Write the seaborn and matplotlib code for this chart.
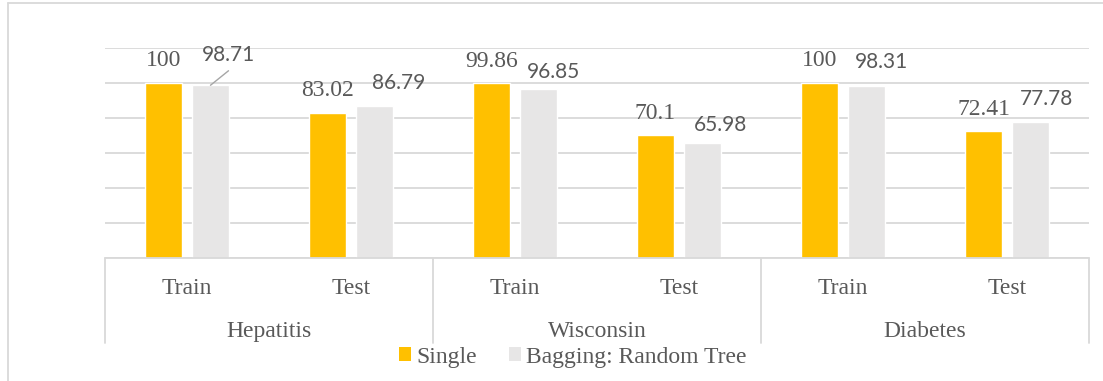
import numpy as np
import pandas as pd
import seaborn as sns
import matplotlib
matplotlib.use("Agg")
import matplotlib.pyplot as plt
from matplotlib.lines import Line2D
from matplotlib.patches import Patch
import matplotlib.transforms as mtransforms

# ---- data ----
datasets = ["Hepatitis", "Wisconsin", "Diabetes"]
splits = ["Train", "Test"]
methods = ["Single", "Bagging: Random Tree"]
single_acc = [100, 83.02, 99.86, 70.1, 100, 72.41]
bagging_acc = [98.71, 86.79, 96.85, 65.98, 98.31, 77.78]

# ---- styling ----
SINGLE_COLOR = "#FFC000"
BAGGING_COLOR = "#E7E6E6"
GRID_COLOR = "#D9D9D9"
TEXT_COLOR = "#595959"
SERIF = "Liberation Serif"
SANS = "Lato"

keys = [f"{d}|{s}" for d in datasets for s in splits]
df = pd.DataFrame({
    "key": keys * 2,
    "method": [methods[0]] * len(keys) + [methods[1]] * len(keys),
    "value": single_acc + bagging_acc,
})

sns.set_theme(style="white")
plt.rcParams["font.family"] = [SERIF, "DejaVu Serif"]

fig = plt.figure(figsize=(11.03, 3.81), dpi=100)
W, H = 1103, 381
ax = fig.add_axes([105 / W, 1 - 258 / H, (1089 - 105) / W, (258 - 48) / H])

sns.barplot(data=df, x="key", y="value", hue="method", order=keys,
            hue_order=methods, palette=[SINGLE_COLOR, BAGGING_COLOR],
            width=0.573, gap=0.213, saturation=1, legend=False, ax=ax,
            zorder=3, errorbar=None)

ax.set_ylim(0, 120)
ax.set_xlim(-0.5, len(keys) - 0.5)
ax.set_yticks(np.arange(0, 121, 20))
ax.set_yticklabels([])
ax.tick_params(axis="both", length=0, labelbottom=False, labelleft=False)
ax.set_xlabel("")
ax.set_ylabel("")
for sp in ax.spines.values():
    sp.set_visible(False)
ax.grid(axis="y", color=GRID_COLOR, lw=1.3, zorder=0)
ax.set_axisbelow(True)

# category box below the plot
xtrans = mtransforms.blended_transform_factory(ax.transData, ax.transAxes)
box_depth = (343 - 258) / (258 - 48)
ax.add_line(Line2D([-0.5, len(keys) - 0.5], [0, 0], transform=xtrans,
                   color=GRID_COLOR, lw=1.3, clip_on=False, zorder=4))
for xs in np.arange(-0.5, len(keys), 2):
    ax.add_line(Line2D([xs, xs], [0, -box_depth], transform=xtrans,
                       color=GRID_COLOR, lw=1.3, clip_on=False))

px = 1.0 / (258 - 48)
for i, k in enumerate(keys):
    ax.text(i, -(294 - 258) * px, k.split("|")[1], transform=xtrans,
            ha="center", va="baseline", fontsize=17, color=TEXT_COLOR,
            family=SERIF)
for j, d in enumerate(datasets):
    ax.text(2 * j + 0.5, -(337 - 258) * px, d, transform=xtrans,
            ha="center", va="baseline", fontsize=17, color=TEXT_COLOR,
            family=SERIF)

# value labels
single_off = [(0, 16.7)] * 6
bagging_off = [(18, 24.3), (24, 17), (15.3, 10.8), (18, 11.8), (15, 17.7), (15.7, 16.9)]
leader = [True, False, False, False, False, False]

for bar, v, (dx, dy) in zip(ax.containers[0], single_acc, single_off):
    xc = bar.get_x() + bar.get_width() / 2
    ax.annotate(f"{v:g}", xy=(xc, v), xytext=(dx, dy), textcoords="offset pixels",
                ha="center", va="baseline", fontsize=17, color=TEXT_COLOR,
                family=SERIF, zorder=5)

for bar, v, (dx, dy), ld in zip(ax.containers[1], bagging_acc, bagging_off, leader):
    xc = bar.get_x() + bar.get_width() / 2
    ax.annotate(f"{v:g}", xy=(xc, v), xytext=(dx, dy), textcoords="offset pixels",
                ha="center", va="baseline", fontsize=15, color=TEXT_COLOR,
                family=SANS, zorder=5)
    if ld:
        ax.annotate("", xy=(xc, v), xytext=(dx, 14.5), textcoords="offset pixels",
                    arrowprops=dict(arrowstyle="-", color="#A6A6A6", lw=1.0,
                                    shrinkA=0, shrinkB=0))

# legend
handles = [Patch(facecolor=SINGLE_COLOR, edgecolor="none"),
           Patch(facecolor=BAGGING_COLOR, edgecolor="none")]
leg = fig.legend(handles, methods, loc="center", bbox_to_anchor=(572.5 / W, 1 - 357 / H),
                 ncol=2, frameon=False, fontsize=17, handlelength=0.52,
                 handleheight=0.52, handletextpad=0.22, columnspacing=1.35,
                 borderpad=0, borderaxespad=0)
for t in leg.get_texts():
    t.set_color(TEXT_COLOR)
    t.set_family(SERIF)

# outer frame (top and left edges)
fig.add_artist(Line2D([8 / W, 8 / W], [0, 1 - 3 / H], transform=fig.transFigure,
                      color=GRID_COLOR, lw=1.3))
fig.add_artist(Line2D([8 / W, 1], [1 - 3 / H, 1 - 3 / H], transform=fig.transFigure,
                      color=GRID_COLOR, lw=1.3))

fig.savefig("out.png", dpi=100, facecolor="white")
